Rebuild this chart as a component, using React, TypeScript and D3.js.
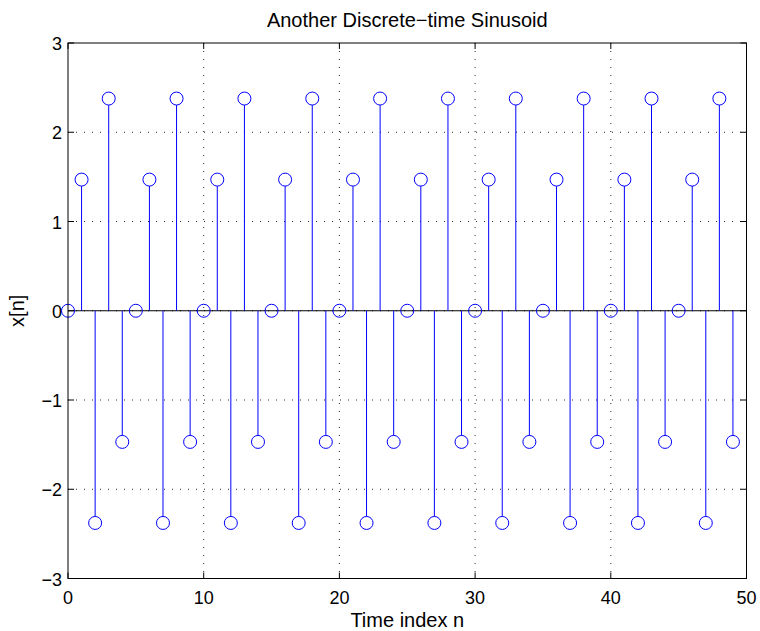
import React from "react";
import * as d3 from "d3";

const nValues: number[] = Array.from({ length: 50 }, (_, i) => i);
const xValues: number[] = [
  0, 1.4695, -2.3776, 2.3776, -1.4695,
  0, 1.4695, -2.3776, 2.3776, -1.4695,
  0, 1.4695, -2.3776, 2.3776, -1.4695,
  0, 1.4695, -2.3776, 2.3776, -1.4695,
  0, 1.4695, -2.3776, 2.3776, -1.4695,
  0, 1.4695, -2.3776, 2.3776, -1.4695,
  0, 1.4695, -2.3776, 2.3776, -1.4695,
  0, 1.4695, -2.3776, 2.3776, -1.4695,
  0, 1.4695, -2.3776, 2.3776, -1.4695,
  0, 1.4695, -2.3776, 2.3776, -1.4695,
];
const xTicks: number[] = [0, 10, 20, 30, 40, 50];
const yTicks: number[] = [-3, -2, -1, 0, 1, 2, 3];
const titleText = "Another Discrete\u2212time Sinusoid";
const xLabel = "Time index n";
const yLabel = "x[n]";

export default function App() {
  const W = 760, H = 631;
  const L = 68, R = 746.5, T = 43, B = 578.5;
  const x = d3.scaleLinear().domain([0, 50]).range([L, R]);
  const y = d3.scaleLinear().domain([-3, 3]).range([B, T]);
  const font = "'Liberation Sans', Arial, Helvetica, sans-serif";
  const blue = "#0000ff";
  const fmt = (v: number) => (v < 0 ? "\u2212" + Math.abs(v) : String(v));
  return (
    <svg width={W} height={H} style={{ position: "absolute", left: 0, top: 0, background: "#fff" }}>
      <rect x={0} y={0} width={W} height={H} fill="#fff" />
      {/* grid */}
      {xTicks.slice(1, -1).map((t) => (
        <line key={"gx" + t} x1={x(t)} x2={x(t)} y1={T} y2={B} stroke="#000" strokeWidth={1} strokeDasharray="1,7" opacity={0.85} />
      ))}
      {yTicks.slice(1, -1).map((t) => (
        <line key={"gy" + t} x1={L} x2={R} y1={y(t)} y2={y(t)} stroke="#000" strokeWidth={1} strokeDasharray="1,7" opacity={0.85} />
      ))}
      {/* baseline */}
      <line x1={x(0)} x2={x(50)} y1={y(0)} y2={y(0)} stroke="#000" strokeWidth={1} />
      {/* stems */}
      {nValues.map((n, i) => (
        <line key={"s" + n} x1={x(n)} x2={x(n)} y1={y(0)} y2={y(xValues[i]) + (xValues[i] > 0 ? 6.5 : xValues[i] < 0 ? -6.5 : 0)} stroke={blue} strokeWidth={1} />
      ))}
      {nValues.map((n, i) => (
        <circle key={"c" + n} cx={x(n)} cy={y(xValues[i])} r={6.5} fill="none" stroke={blue} strokeWidth={1} />
      ))}
      {/* box */}
      <rect x={L} y={T} width={R - L} height={B - T} fill="none" stroke="#000" strokeWidth={1} />
      {/* ticks */}
      {xTicks.map((t) => (
        <g key={"tx" + t}>
          <line x1={x(t)} x2={x(t)} y1={B} y2={B - 6} stroke="#000" />
          <line x1={x(t)} x2={x(t)} y1={T} y2={T + 6} stroke="#000" />
          <text x={x(t)} y={604} textAnchor="middle" fontFamily={font} fontSize={18} fill="#000">{fmt(t)}</text>
        </g>
      ))}
      {yTicks.map((t) => (
        <g key={"ty" + t}>
          <line x1={L} x2={L + 6} y1={y(t)} y2={y(t)} stroke="#000" />
          <line x1={R} x2={R - 6} y1={y(t)} y2={y(t)} stroke="#000" />
          <text x={L - 6} y={y(t) + 7} textAnchor="end" fontFamily={font} fontSize={18} fill="#000">{fmt(t)}</text>
        </g>
      ))}
      <text x={(L + R) / 2} y={27} textAnchor="middle" fontFamily={font} fontSize={20} fill="#000">{titleText}</text>
      <text x={(L + R) / 2} y={627} textAnchor="middle" fontFamily={font} fontSize={20} fill="#000">{xLabel}</text>
      <text transform={`translate(24, ${(T + B) / 2}) rotate(-90)`} textAnchor="middle" fontFamily={font} fontSize={20} fill="#000">{yLabel}</text>
    </svg>
  );
}
